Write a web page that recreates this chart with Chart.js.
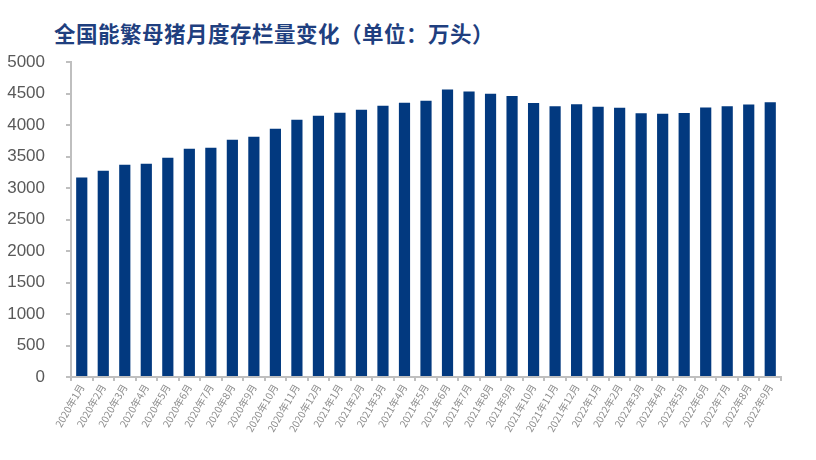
<!DOCTYPE html>
<html>
<head>
<meta charset="utf-8">
<script src="https://cdn.jsdelivr.net/npm/chart.js@4/dist/chart.umd.min.js"></script>
<style>
  html, body { margin: 0; padding: 0; background: #fff; }
  #wrap { position: relative; width: 816px; height: 460px; }
  #title { position: absolute; left: 54px; top: 17px; font-family: "Noto Sans CJK SC", sans-serif; font-weight: 700; font-size: 21.5px; color: #1f3f7f; white-space: nowrap; letter-spacing: 0.5px; }
  canvas { position: absolute; left: 0; top: 0; }
</style>
</head>
<body>
<div id="wrap">
  <div id="title">全国能繁母猪月度存栏量变化（单位：万头）</div>
  <canvas id="c" width="816" height="460"></canvas>
</div>
<script>
const categories = [
  "2020年1月","2020年2月","2020年3月","2020年4月","2020年5月","2020年6月",
  "2020年7月","2020年8月","2020年9月","2020年10月","2020年11月","2020年12月",
  "2021年1月","2021年2月","2021年3月","2021年4月","2021年5月","2021年6月",
  "2021年7月","2021年8月","2021年9月","2021年10月","2021年11月","2021年12月",
  "2022年1月","2022年2月","2022年3月","2022年4月","2022年5月","2022年6月",
  "2022年7月","2022年8月","2022年9月"
];
const sowStock = [
  3165, 3275, 3370, 3386, 3481, 3624,
  3640, 3767, 3814, 3941, 4084, 4148,
  4195, 4243, 4306, 4354, 4386, 4564,
  4532, 4497, 4459, 4348, 4296, 4329,
  4290, 4274, 4185, 4177, 4192, 4277,
  4298, 4324, 4362
];
const yTicks = [0, 500, 1000, 1500, 2000, 2500, 3000, 3500, 4000, 4500, 5000];

new Chart(document.getElementById('c'), {
  type: 'bar',
  data: {
    labels: categories,
    datasets: [{
      data: sowStock,
      backgroundColor: '#02397f',
      borderWidth: 0,
      categoryPercentage: 1.0,
      barPercentage: 0.52
    }]
  },
  options: {
    responsive: false,
    animation: false,
    layout: { padding: { left: 0, right: 35, top: 62, bottom: 0 } },
    plugins: { legend: { display: false }, tooltip: { enabled: false }, title: { display: false } },
    scales: {
      x: {
        offset: true,
        grid: { display: true, drawOnChartArea: false, offset: true, tickLength: 4, color: '#bfbfbf', lineWidth: 2 },
        border: { display: true, color: '#bfbfbf', width: 2 },
        ticks: {
          autoSkip: false, minRotation: 60, maxRotation: 60, padding: 1,
          color: '#8c8c8c', font: { family: '"Noto Sans CJK SC", sans-serif', size: 10 }
        },
        afterFit: (s) => { s.height = 83; }
      },
      y: {
        min: 0, max: 5000,
        afterBuildTicks: (s) => { s.ticks = yTicks.map(v => ({ value: v })); },
        grid: { display: true, drawOnChartArea: false, tickLength: 5, color: '#bfbfbf', lineWidth: 2 },
        border: { display: true, color: '#bfbfbf', width: 2 },
        ticks: {
          padding: 21, color: '#595959',
          callback: (v) => String(v),
          font: { family: '"Liberation Sans", Arial, sans-serif', size: 17 }
        },
        afterFit: (s) => { s.width = 71; }
      }
    }
  }
});
</script>
</body>
</html>
